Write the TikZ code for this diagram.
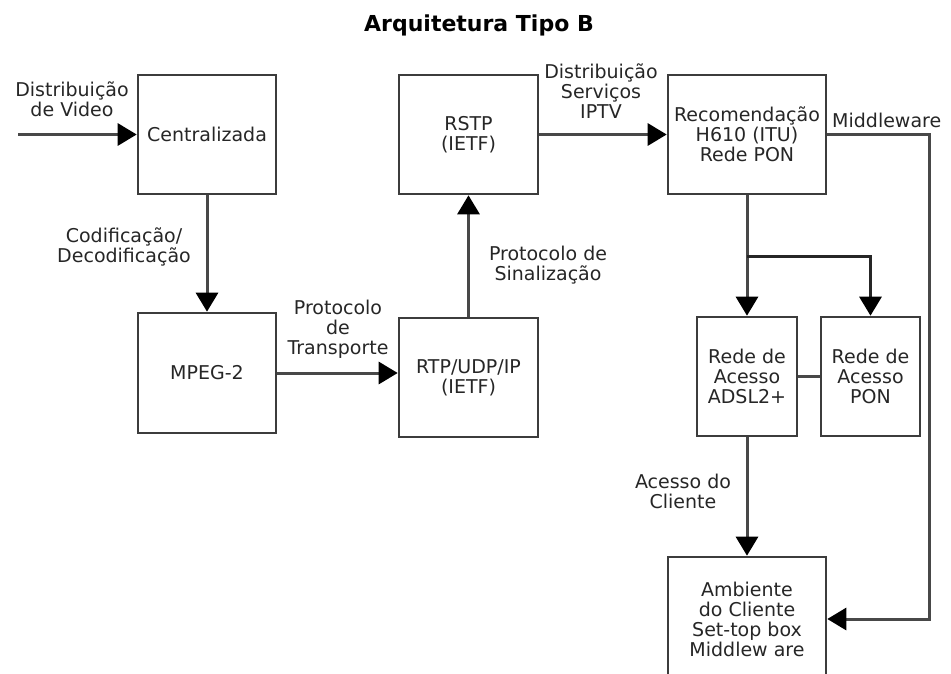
\documentclass[tikz,border=0pt]{standalone}
\usepackage{fontspec}
\setmainfont{DejaVu Sans}
\usetikzlibrary{arrows.meta,positioning}
\definecolor{ArqLine}{RGB}{72,72,72}
\definecolor{ArqBorder}{RGB}{60,60,60}
\tikzset{
  arq/box/.style={
    draw=ArqBorder,
    line width=2.6pt,
    fill=white,
    align=center,
    text=black!85,
    inner sep=0pt,
    font=\fontsize{19}{20}\selectfont
  },
  arq/arrow/.style={-{Triangle[length=19pt,width=22pt,color=black]}, line width=3pt, draw=ArqLine},
  arq/line/.style={line width=3.5pt, draw=ArqLine},
  arq/label/.style={font=\fontsize{19}{20}\selectfont, text=black!85, align=center, inner sep=0pt},
  arq/title/.style={font=\bfseries\fontsize{22}{26}\selectfont, text=black}
}
\begin{document}
\begin{tikzpicture}[x=1pt,y=-1pt]
  \useasboundingbox (0,0) rectangle (951,673);
  \clip (0,0) rectangle (951,673);
  % boxes
  \node[arq/box,minimum width=138pt,minimum height=119pt] (cent) at (207,134.5) {Centralizada};
  \node[arq/box,minimum width=138pt,minimum height=120pt] (mpeg) at (207,373) {MPEG-2};
  \node[arq/box,minimum width=139pt,minimum height=119pt] (rstp) at (468.5,134.5) {RSTP\\(IETF)};
  \node[arq/box,minimum width=139pt,minimum height=119pt] (rtp) at (468.5,377.5) {RTP/UDP/IP\\(IETF)};
  \node[arq/box,minimum width=158pt,minimum height=119pt] (rec) at (747,134.5) {Recomendação\\H610 (ITU)\\Rede PON};
  \node[arq/box,minimum width=100pt,minimum height=119pt] (adsl) at (747,376.5) {Rede de\\Acesso\\ADSL2+};
  \node[arq/box,minimum width=99pt,minimum height=119pt] (pon) at (870.5,376.5) {Rede de\\Acesso\\PON};
  \node[arq/box,minimum width=158pt,minimum height=124pt] (amb) at (747,619) {Ambiente\\do Cliente\\Set-top box\\Middlew are};
  \node[arq/title] (titulo) at (479,25) {Arquitetura Tipo B};
  % connectors
  \coordinate (vin) at (18,134.5);
  \coordinate (split) at (747,256);
  \coordinate (mw) at (929,134.5);
  \draw[arq/arrow] (vin) -- (cent.west);
  \draw[arq/arrow] (cent.south) -- (mpeg.north);
  \draw[arq/arrow] (mpeg.east) -- (mpeg.east -| rtp.west);
  \draw[arq/arrow] (rtp.north) -- (rstp.south);
  \draw[arq/arrow] (rstp.east) -- (rec.west);
  \draw[arq/arrow] (rec.south) -- (adsl.north);
  \draw[arq/arrow,draw=black!85] (split) -| (pon.north);
  \draw[arq/line] (adsl.east) -- (pon.west);
  \draw[arq/arrow] (adsl.south) -- (amb.north);
  \draw[arq/arrow] (rec.east) -- (mw) |- (amb.east);
  % labels
  \node[arq/label] (lvideo) at (72,99) {Distribuição\\de Video};
  \node[arq/label] (lcod) at (124,247) {Codificação/\\Decodificação};
  \node[arq/label] (ltransp) at (338,329) {Protocolo\\de\\Transporte};
  \node[arq/label] (lsinal) at (548,265) {Protocolo de\\Sinalização};
  \node[arq/label] (liptv) at (601,91) {Distribuição\\Serviços\\IPTV};
  \node[arq/label,anchor=west] (lmw) at (832,120) {Middleware};
  \node[arq/label] (lcli) at (683,491) {Acesso do\\Cliente};
\end{tikzpicture}
\end{document}
